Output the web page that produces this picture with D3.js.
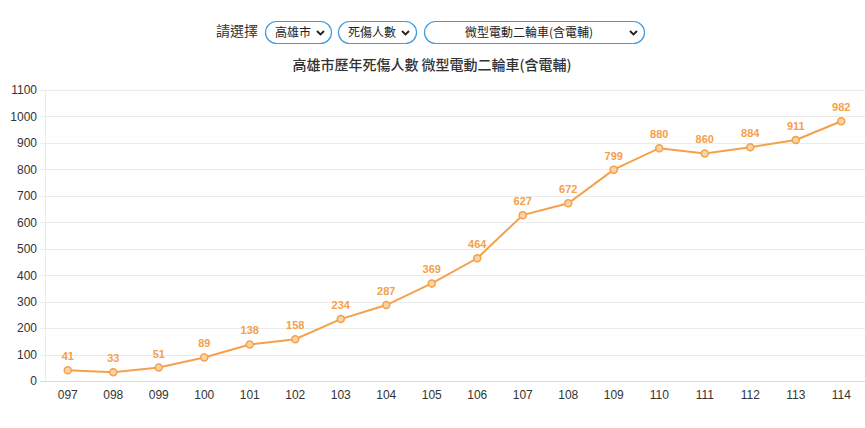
<!DOCTYPE html>
<html>
<head>
<meta charset="utf-8">
<script src="https://cdn.jsdelivr.net/npm/d3@7"></script>
<style>
  body { margin: 0; background: #fff; font-family: "Noto Sans CJK TC", "Noto Sans", sans-serif; }
  svg { display: block; }
</style>
</head>
<body>
<svg id="chart" width="865" height="428"></svg>
<script>
// data
var years = ['097', '098', '099', '100', '101', '102', '103', '104', '105', '106', '107', '108', '109', '110', '111', '112', '113', '114'];
var casualties = [41, 33, 51, 89, 138, 158, 234, 287, 369, 464, 627, 672, 799, 880, 860, 884, 911, 982];
var yTicks = [0, 100, 200, 300, 400, 500, 600, 700, 800, 900, 1000, 1100];
var selectLabels = ['高雄市', '死傷人數', '微型電動二輪車(含電輔)'];
var title = '高雄市歷年死傷人數 微型電動二輪車(含電輔)';

var lineColor = '#f5a04a';
var W = 865, H = 428;
var plotLeft = 45, plotRight = 864, plotTop = 90, plotBottom = 381;

var svg = d3.select('#chart');

// selector row
svg.append('text')
    .attr('x', 258).attr('y', 36)
    .attr('text-anchor', 'end')
    .style('font-size', '14px')
    .style('fill', '#333')
    .text('請選擇');

var boxes = [
    { x: 265, w: 66 },
    { x: 338, w: 78 },
    { x: 424, w: 220 }
];
boxes.forEach(function (b, i) {
    var g = svg.append('g').attr('transform', 'translate(' + b.x + ',21)');
    g.append('rect')
        .attr('x', 0.5).attr('y', 0.5)
        .attr('width', b.w).attr('height', 22)
        .attr('rx', 11).attr('ry', 11)
        .style('fill', '#fff')
        .style('stroke', '#3d9be0')
        .style('stroke-width', 1.2);
    g.append('text')
        .attr('x', (b.w - 14) / 2 + 2).attr('y', 16)
        .attr('text-anchor', 'middle')
        .style('font-size', '12px')
        .style('fill', '#222')
        .text(selectLabels[i]);
    // chevron
    g.append('path')
        .attr('d', 'M' + (b.w - 14) + ',10 l3.5,3.5 l3.5,-3.5')
        .style('fill', 'none')
        .style('stroke', '#222')
        .style('stroke-width', 1.8);
});

// title
svg.append('text')
    .attr('x', 432).attr('y', 70)
    .attr('text-anchor', 'middle')
    .style('font-size', '14px')
    .style('font-weight', 500)
    .style('fill', '#333')
    .text(title);

var x = d3.scaleBand().domain(years).range([plotLeft, plotRight]);
var y = d3.scaleLinear().domain([0, 1100]).range([plotBottom, plotTop]);

// grid
svg.append('g')
    .selectAll('line')
    .data(yTicks)
    .enter()
    .append('line')
    .attr('x1', 40).attr('x2', W)
    .attr('y1', function (d) { return Math.round(y(d)) + 0.5; })
    .attr('y2', function (d) { return Math.round(y(d)) + 0.5; })
    .style('stroke', function (d) { return d === 0 ? '#d9d9d9' : '#ebebeb'; })
    .style('stroke-width', 1);

svg.append('line')
    .attr('x1', plotLeft + 0.5).attr('x2', plotLeft + 0.5)
    .attr('y1', plotTop).attr('y2', plotBottom)
    .style('stroke', '#ebebeb');

// y axis labels
var yAxis = d3.axisLeft(y).tickValues(yTicks).tickFormat(d3.format('d')).tickSize(0).tickPadding(8);
var yg = svg.append('g').attr('transform', 'translate(' + plotLeft + ',0)').call(yAxis);
yg.select('.domain').remove();
yg.selectAll('text')
    .style('font-family', '"Liberation Sans", Arial, sans-serif')
    .style('font-size', '12px')
    .style('fill', '#333');

// x axis labels
var xAxis = d3.axisBottom(x).tickSize(0).tickPadding(9);
var xg = svg.append('g').attr('transform', 'translate(0,' + plotBottom + ')').call(xAxis);
xg.select('.domain').remove();
xg.selectAll('text')
    .style('font-family', '"Liberation Sans", Arial, sans-serif')
    .style('font-size', '12px')
    .style('fill', '#333');

// line
var cx = function (d, i) { return x(years[i]) + x.bandwidth() / 2; };
var line = d3.line()
    .x(cx)
    .y(function (d) { return y(d); });

svg.append('path')
    .datum(casualties)
    .attr('d', line)
    .style('fill', 'none')
    .style('stroke', lineColor)
    .style('stroke-width', 2);

svg.append('g')
    .selectAll('circle')
    .data(casualties)
    .enter()
    .append('circle')
    .attr('cx', cx)
    .attr('cy', function (d) { return y(d); })
    .attr('r', 3.5)
    .style('fill', '#fbd3a8')
    .style('stroke', lineColor)
    .style('stroke-width', 1.5);

svg.append('g')
    .selectAll('text')
    .data(casualties)
    .enter()
    .append('text')
    .attr('x', cx)
    .attr('y', function (d) { return y(d) - 10; })
    .attr('text-anchor', 'middle')
    .style('font-family', '"Liberation Sans", Arial, sans-serif')
    .style('font-size', '11px')
    .style('font-weight', 'bold')
    .style('fill', lineColor)
    .text(function (d) { return d; });
</script>
</body>
</html>
